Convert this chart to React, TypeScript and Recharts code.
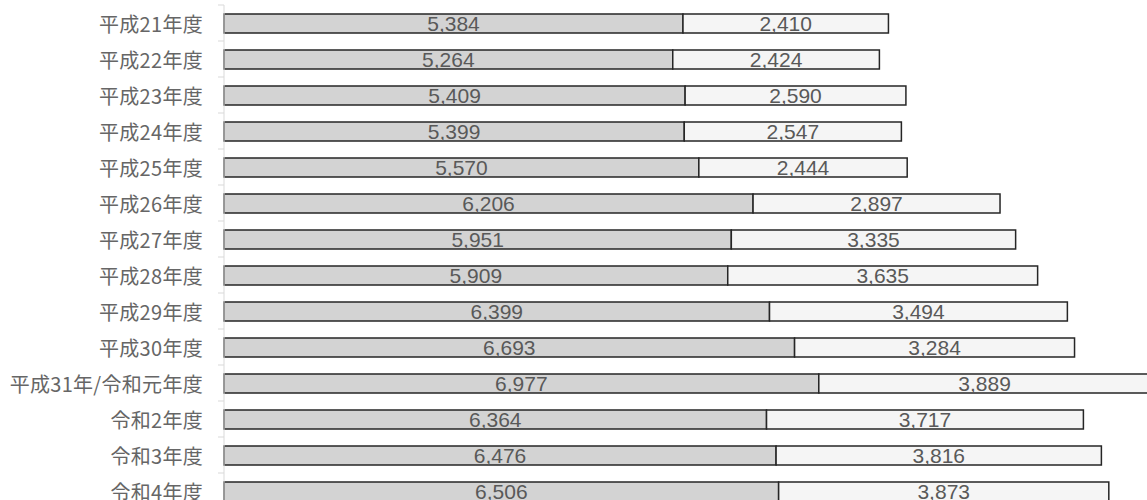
import React from "react";
import { BarChart, Bar, XAxis, YAxis, LabelList } from "recharts";

const categories = [
  "平成21年度",
  "平成22年度",
  "平成23年度",
  "平成24年度",
  "平成25年度",
  "平成26年度",
  "平成27年度",
  "平成28年度",
  "平成29年度",
  "平成30年度",
  "平成31年/令和元年度",
  "令和2年度",
  "令和3年度",
  "令和4年度",
];
const seriesA = [5384, 5264, 5409, 5399, 5570, 6206, 5951, 5909, 6399, 6693, 6977, 6364, 6476, 6506];
const seriesB = [2410, 2424, 2590, 2547, 2444, 2897, 3335, 3635, 3494, 3284, 3889, 3717, 3816, 3873];
const xDomain = [0, 12000];

const data = categories.map((name, i) => ({ name, a: seriesA[i], b: seriesB[i] }));

const CHART_W = 1260;
const CHART_H = 520;
const MARGIN = { top: 5, right: 13, bottom: 11, left: 0 };
const Y_W = 224;
const TICK_SIZE = 6;
const TICK_MARGIN = 15;
const BAND = (CHART_H - MARGIN.top - MARGIN.bottom) / categories.length;

const fmt = (v: any) => Number(v).toLocaleString("en-US");

function YTick(props: any) {
  const { x, y, payload } = props;
  const axisX = x + TICK_MARGIN + TICK_SIZE;
  return (
    <g>
      <line
        x1={axisX - TICK_SIZE}
        x2={axisX}
        y1={y - BAND / 2}
        y2={y - BAND / 2}
        stroke="#d9d9d9"
        strokeWidth={1}
      />
      <text
        x={x}
        y={y}
        textAnchor="end"
        dominantBaseline="central"
        fill="#666666"
        fontSize={20}
        letterSpacing={0.3}
        fontFamily="'Noto Sans CJK JP', sans-serif"
      >
        {payload.value}
      </text>
    </g>
  );
}

export default function App() {
  return (
    <div
      style={{
        position: "fixed",
        left: 0,
        top: 0,
        width: 1147,
        height: 500,
        overflow: "hidden",
        background: "#ffffff",
      }}
    >
      <BarChart
        width={CHART_W}
        height={CHART_H}
        data={data}
        layout="vertical"
        margin={MARGIN}
        barSize={19}
      >
        <XAxis type="number" domain={xDomain} hide height={0} />
        <YAxis
          type="category"
          dataKey="name"
          width={Y_W}
          axisLine={{ stroke: "#d9d9d9", strokeWidth: 1 }}
          tickLine={false}
          tickSize={TICK_SIZE}
          tickMargin={TICK_MARGIN}
          tick={<YTick />}
          interval={0}
        />
        <Bar dataKey="a" stackId="s" fill="#d3d3d3" stroke="#262626" strokeWidth={1.5} isAnimationActive={false}>
          <LabelList
            dataKey="a"
            position="center"
            formatter={fmt}
            fill="#595959"
            fontSize={21}
            fontFamily="'Liberation Sans', sans-serif"
          />
        </Bar>
        <Bar dataKey="b" stackId="s" fill="#f5f5f5" stroke="#262626" strokeWidth={1.5} isAnimationActive={false}>
          <LabelList
            dataKey="b"
            position="center"
            formatter={fmt}
            fill="#595959"
            fontSize={21}
            fontFamily="'Liberation Sans', sans-serif"
          />
        </Bar>
      </BarChart>
    </div>
  );
}
